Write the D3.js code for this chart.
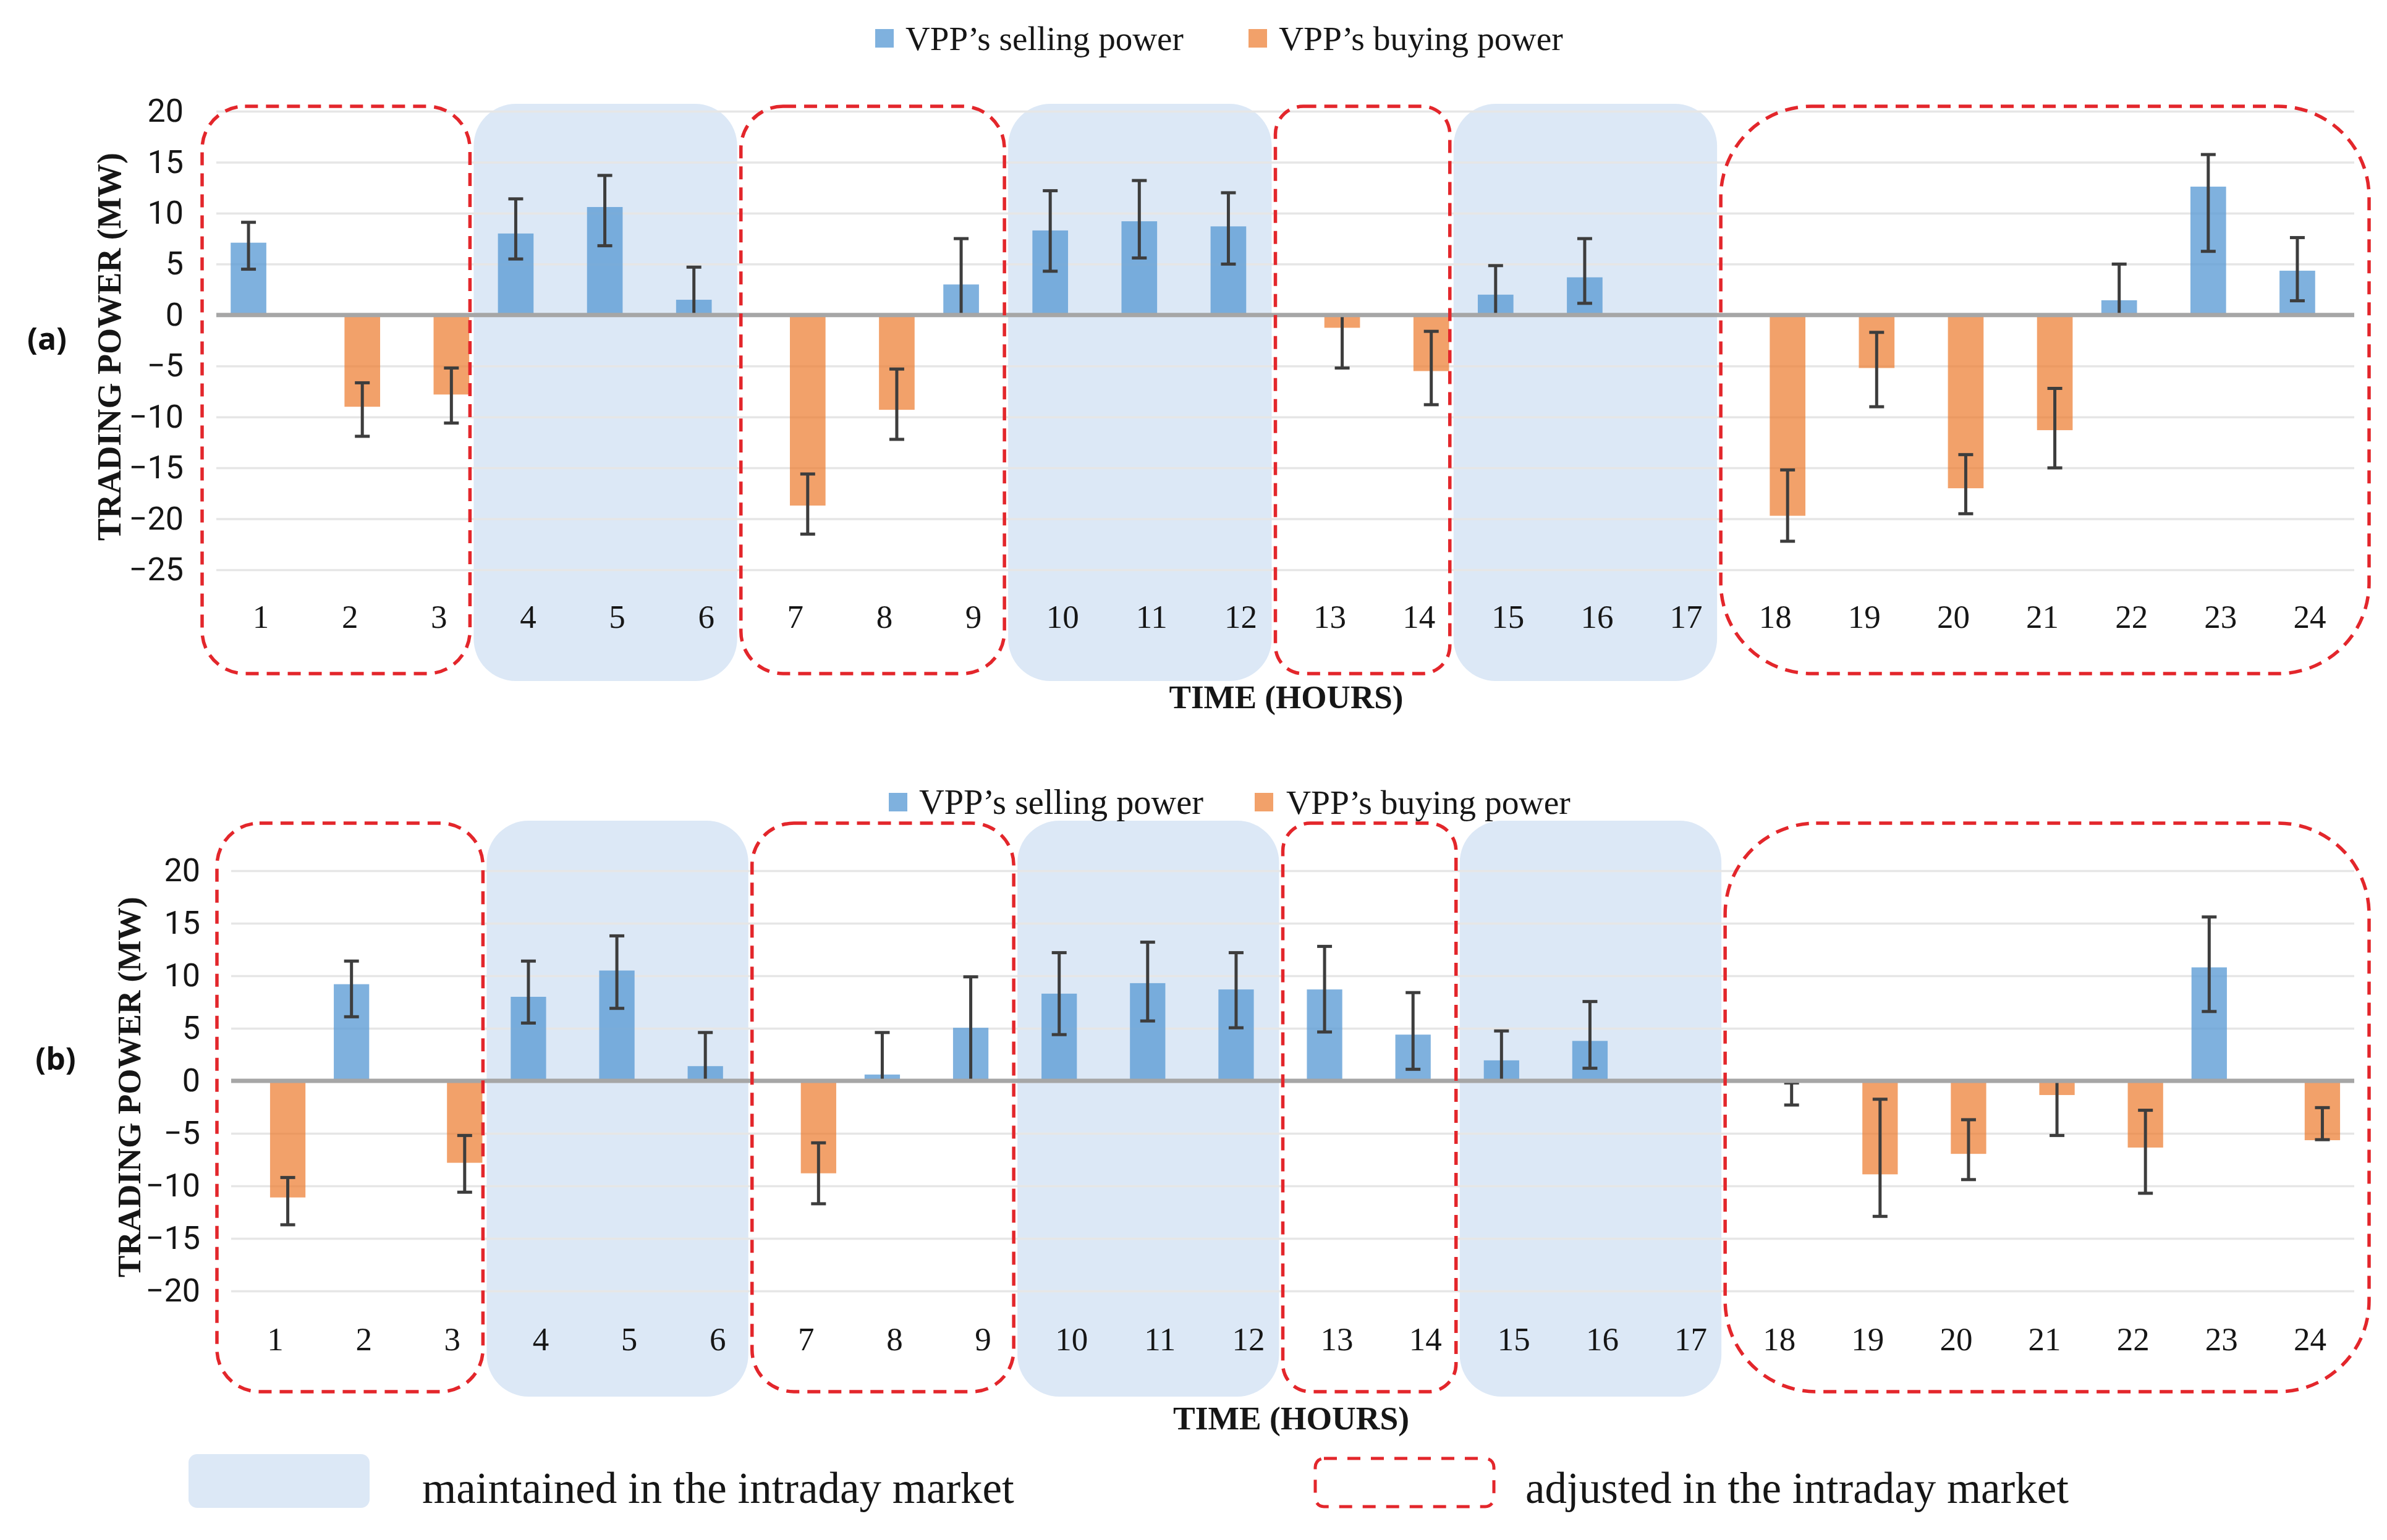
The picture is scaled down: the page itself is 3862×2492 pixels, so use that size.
<!DOCTYPE html>
<html><head><meta charset="utf-8">
<script src="https://cdn.jsdelivr.net/npm/d3@7"></script>
<style>html,body{margin:0;padding:0;background:#fff;}svg{display:block;}</style>
</head><body>
<script>
// ---------------- DATA ----------------
const hours = ["1","2","3","4","5","6","7","8","9","10","11","12","13","14","15","16","17","18","19","20","21","22","23","24"];
const seriesNames = ["VPP\u2019s selling power", "VPP\u2019s buying power"];
const yTicksA = [20,15,10,5,0,-5,-10,-15,-20,-25];
const yTicksB = [20,15,10,5,0,-5,-10,-15,-20];

// panel (a)
const sellingA = [7.1,null,null,8.0,10.6,1.5,null,null,3.0,8.3,9.2,8.7,null,null,2.0,3.7,null,null,null,null,null,1.45,12.6,4.35];
const buyingA  = [null,-9.0,-7.8,null,null,null,-18.7,-9.3,null,null,null,null,-1.25,-5.5,null,null,null,-19.7,-5.2,-17.0,-11.3,null,null,null];
const errHighA = [9.1,-6.65,-5.2,11.4,13.7,4.7,-15.6,-5.3,7.5,12.2,13.2,12.0,0,-1.6,4.85,7.5,null,-15.2,-1.7,-13.7,-7.2,5.0,15.75,7.6];
const errLowA  = [4.5,-11.9,-10.6,5.5,6.8,0,-21.5,-12.2,0,4.3,5.6,5.0,-5.2,-8.8,0,1.15,null,-22.2,-9.0,-19.5,-15.0,0,6.25,1.4];

// panel (b)
const sellingB = [null,9.2,null,8.0,10.5,1.4,null,0.6,5.05,8.3,9.3,8.7,8.7,4.4,1.95,3.8,null,null,null,null,null,null,10.8,null];
const buyingB  = [-11.1,null,-7.8,null,null,null,-8.8,null,null,null,null,null,null,null,null,null,null,-0.1,-8.9,-6.95,-1.35,-6.35,null,-5.65];
const errHighB = [-9.2,11.4,-5.2,11.4,13.8,4.6,-5.9,4.6,9.9,12.2,13.2,12.2,12.8,8.4,4.75,7.55,null,-0.2,-1.75,-3.7,0,-2.8,15.6,-2.55];
const errLowB  = [-13.7,6.1,-10.6,5.5,6.9,0,-11.7,0,0,4.4,5.7,5.05,4.65,1.1,0,1.2,null,-2.3,-12.9,-9.4,-5.2,-10.7,6.6,-5.6];

// hour ranges of the highlight regions
const maintainedRanges = [["4","6"],["10","12"],["15","17"]];
const adjustedRanges   = [["1","3"],["7","9"],["13","14"],["18","24"]];
const legendLabels = ["maintained in the intraday market", "adjusted in the intraday market"];

// ---------------- STYLE / LAYOUT ----------------
const W = 3862, H = 2492;
const BLUE = "#5b9bd5", ORANGE = "#ed7d31";
const BOX_FILL = "#dce8f6", RED = "#e3262b";
const SERIF = "'Liberation Serif', 'DejaVu Serif', serif";
const SANS = "Roboto, 'Liberation Sans', sans-serif";
const TXT = "#161616";

const panels = [
  { tag:"(a)", selling:sellingA, buying:buyingA, hi:errHighA, lo:errLowA, ticks:yTicksA, domain:[-25,20],
    gx0:350, gx1:3809, yTop:180, yBot:922, labelY:998, tickRight:297,
    titleX:177, titleW:628, timeX:2081, timeY:1128, timeW:379, tagX:76, tagY:547,
    redTop:172, redBot:1090, blueTop:168, blueBot:1102,
    leg:{y:62, sq1:1416, t1:1465, sq2:2020, t2:2069, w1:450, w2:460} },
  { tag:"(b)", selling:sellingB, buying:buyingB, hi:errHighB, lo:errLowB, ticks:yTicksB, domain:[-20,20],
    gx0:374, gx1:3809, yTop:1409, yBot:2089, labelY:2167, tickRight:324,
    titleX:209, titleW:616, timeX:2089, timeY:2295, timeW:382, tagX:90, tagY:1712,
    redTop:1332, redBot:2252, blueTop:1328, blueBot:2260,
    leg:{y:1298, sq1:1438, t1:1487, sq2:2030, t2:2081, w1:460, w2:460} }
];

const svg = d3.select("body").append("svg").attr("width", W).attr("height", H).attr("viewBox", `0 0 ${W} ${H}`);
svg.append("rect").attr("width", W).attr("height", H).attr("fill", "#fff");

function fitWidth(sel, target) {
  const n = sel.node();
  const w = n.getComputedTextLength();
  const fs = parseFloat(sel.attr("font-size"));
  if (w > 0) sel.attr("font-size", fs * target / w);
  return sel;
}

function roundBox(g, x0, x1, y0, y1, opts) {
  const w = x1 - x0, h = y1 - y0, r = 0.16 * Math.min(w, h);
  return g.append("rect").attr("x", x0).attr("y", y0).attr("width", w).attr("height", h)
    .attr("rx", r).attr("ry", r).attr("fill", opts.fill || "none")
    .attr("stroke", opts.stroke || "none").attr("stroke-width", opts.sw || 0)
    .attr("stroke-dasharray", opts.dash || null);
}

panels.forEach(p => {
  const g = svg.append("g");
  const x = d3.scaleBand().domain(hours).range([p.gx0, p.gx1]).paddingInner(0).paddingOuter(0);
  const step = x.step();
  const off = d3.scalePoint().domain(["selling","buying"]).range([-20, 20]);
  const barW = step * 0.4;
  const y = d3.scaleLinear().domain(p.domain).range([p.yBot, p.yTop]);
  const first = hours[0], last = hours[hours.length-1];

  const boxX = (r) => {
    let l = x(r[0]) - 16, rr = x(r[1]) + step - 22;
    if (r[0] === first) l = x(r[0]) - 23;
    if (r[1] === last) rr = x(r[1]) + step + 24;
    return [l, rr];
  };

  // maintained (blue) boxes behind everything
  maintainedRanges.forEach(r => { const [l, rr] = boxX(r); roundBox(g, l, rr, p.blueTop, p.blueBot, {fill: BOX_FILL}); });

  // gridlines
  const grid = g.append("g").attr("transform", `translate(${p.gx0},0)`)
    .call(d3.axisLeft(y).tickValues(p.ticks).tickSize(-(p.gx1 - p.gx0)).tickFormat(""));
  grid.select(".domain").remove();
  grid.selectAll("line").attr("stroke", "#e6e6e6").attr("stroke-width", 3.5);

  // y tick labels
  const ya = g.append("g").attr("transform", `translate(${p.tickRight},0)`)
    .call(d3.axisLeft(y).tickValues(p.ticks).tickSize(0).tickPadding(0).tickFormat(d3.format("d")));
  ya.select(".domain").remove();
  ya.selectAll("text").attr("font-family", SANS).attr("font-size", 52).attr("fill", TXT);

  // x tick labels
  const xa = g.append("g").attr("transform", `translate(0,${p.labelY})`)
    .call(d3.axisBottom(x).tickSize(0).tickPadding(0));
  xa.select(".domain").remove();
  xa.selectAll("text").attr("font-family", SERIF).attr("font-size", 53).attr("fill", TXT).attr("dy", "0.34em");

  // bars
  const rows = hours.map((h, i) => ({h, s: p.selling[i], b: p.buying[i], hi: p.hi[i], lo: p.lo[i]}));
  const barsData = [];
  rows.forEach(d => {
    if (d.s != null) barsData.push({h: d.h, v: d.s, k: "selling"});
    if (d.b != null) barsData.push({h: d.h, v: d.b, k: "buying"});
  });
  g.append("g").selectAll("rect").data(barsData).join("rect")
    .attr("x", d => x(d.h) + step/2 + off(d.k) - barW/2)
    .attr("width", barW)
    .attr("y", d => Math.min(y(d.v), y(0)))
    .attr("height", d => Math.abs(y(d.v) - y(0)))
    .attr("fill", d => d.k === "selling" ? BLUE : ORANGE)
    .attr("fill-opacity", d => d.k === "selling" ? 0.78 : 0.72);

  // error bars
  const errData = rows.filter(d => d.hi != null).map(d => ({...d, k: d.s != null ? "selling" : "buying"}));
  const eg = g.append("g").attr("stroke", "#3d3d3d").attr("stroke-width", 5);
  const ex = d => x(d.h) + step/2 + off(d.k);
  eg.selectAll("line.v").data(errData).join("line").attr("class","v")
    .attr("x1", ex).attr("x2", ex).attr("y1", d => y(d.hi)).attr("y2", d => y(d.lo));
  eg.selectAll("line.t").data(errData).join("line").attr("class","t")
    .attr("x1", d => ex(d) - 12).attr("x2", d => ex(d) + 12).attr("y1", d => y(d.hi)).attr("y2", d => y(d.hi));
  eg.selectAll("line.b").data(errData).join("line").attr("class","b")
    .attr("x1", d => ex(d) - 12).attr("x2", d => ex(d) + 12).attr("y1", d => y(d.lo)).attr("y2", d => y(d.lo));

  // zero line
  g.append("line").attr("x1", p.gx0).attr("x2", p.gx1).attr("y1", y(0)).attr("y2", y(0))
    .attr("stroke", "#a6a6a6").attr("stroke-width", 7);

  // adjusted (red dashed) boxes
  adjustedRanges.forEach(r => { const [l, rr] = boxX(r); roundBox(g, l, rr, p.redTop, p.redBot, {stroke: RED, sw: 5.5, dash: "21 13"}); });

  // axis titles
  const yt = g.append("text").attr("transform", `translate(${p.titleX},${(p.yTop + p.yBot)/2 + 10}) rotate(-90)`)
    .attr("text-anchor", "middle").attr("dominant-baseline", "central")
    .attr("font-family", SERIF).attr("font-weight", "bold").attr("font-size", 50).attr("fill", TXT)
    .text("TRADING POWER (MW)");
  fitWidth(yt, p.titleW);
  const tt = g.append("text").attr("x", p.timeX).attr("y", p.timeY).attr("text-anchor", "middle")
    .attr("dominant-baseline", "central")
    .attr("font-family", SERIF).attr("font-weight", "bold").attr("font-size", 50).attr("fill", TXT)
    .text("TIME (HOURS)");
  fitWidth(tt, p.timeW);
  g.append("text").attr("x", p.tagX).attr("y", p.tagY).attr("text-anchor", "middle").attr("dominant-baseline", "central")
    .attr("font-family", "'Open Sans', 'Liberation Sans', sans-serif").attr("font-weight", "bold").attr("font-size", 50)
    .attr("fill", "#111").text(p.tag);

  // series legend
  const L = p.leg;
  [[L.sq1, L.t1, BLUE, 0.78, seriesNames[0], L.w1], [L.sq2, L.t2, ORANGE, 0.72, seriesNames[1], L.w2]].forEach(([sx, tx, c, op, name, tw]) => {
    g.append("rect").attr("x", sx).attr("y", L.y - 15).attr("width", 30).attr("height", 30).attr("fill", c).attr("fill-opacity", op);
    const t = g.append("text").attr("x", tx).attr("y", L.y).attr("dominant-baseline", "central")
      .attr("font-family", SERIF).attr("font-size", 52).attr("fill", TXT).text(name);
    fitWidth(t, tw);
  });
});

// bottom legend
const lg = svg.append("g");
lg.append("rect").attr("x", 305).attr("y", 2353).attr("width", 293).attr("height", 87).attr("rx", 14).attr("fill", BOX_FILL);
const lt1 = lg.append("text").attr("x", 683).attr("y", 2408).attr("dominant-baseline", "central")
  .attr("font-family", SERIF).attr("font-size", 66).attr("fill", TXT).text(legendLabels[0]);
fitWidth(lt1, 958);
lg.append("rect").attr("x", 2128).attr("y", 2360).attr("width", 289).attr("height", 78).attr("rx", 14)
  .attr("fill", "none").attr("stroke", RED).attr("stroke-width", 5).attr("stroke-dasharray", "21 17");
const lt2 = lg.append("text").attr("x", 2468).attr("y", 2408).attr("dominant-baseline", "central")
  .attr("font-family", SERIF).attr("font-size", 66).attr("fill", TXT).text(legendLabels[1]);
fitWidth(lt2, 879);
</script>
</body></html>
